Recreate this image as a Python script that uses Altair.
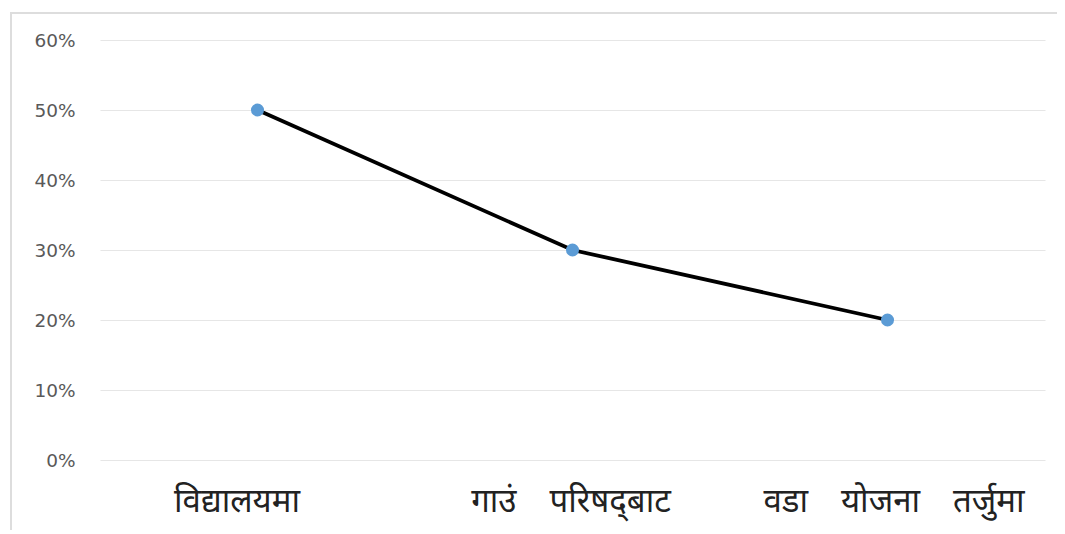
import altair as alt
import pandas as pd

categories = ["विद्यालयमा", "गाउं परिषद्\u200cबाट", "वडा योजना तर्जुमा"]
values = [0.50, 0.30, 0.20]
y_ticks = [0, 0.1, 0.2, 0.3, 0.4, 0.5, 0.6]

df = pd.DataFrame({"cat": categories, "val": values})

x_enc = alt.X(
    "cat:N",
    sort=None,
    scale=alt.Scale(padding=0.5),
    axis=alt.Axis(
        title=None,
        labelAngle=0,
        labelFontSize=33,
        labelFont="Noto Sans",
        labelColor="#222222",
        labelPadding=25,
        labelLimit=0,
        labelExpr="replace(datum.label, / /g, '\u2003')",
        labelOffset=alt.ExprRef(expr="datum.value === '" + categories[0] + "' ? -21 : (datum.value === '" + categories[2] + "' ? 6 : -2)"),
        ticks=False,
        domain=False,
        grid=False,
    ),
)
y_enc = alt.Y(
    "val:Q",
    scale=alt.Scale(domain=[0, 0.6], nice=False),
    axis=alt.Axis(
        title=None,
        values=y_ticks,
        format=".0%",
        labelFontSize=18.5,
        labelFont="DejaVu Sans",
        labelColor="#595959",
        labelPadding=25,
        ticks=False,
        domain=False,
        grid=True,
        gridColor="#E6E6E6",
        gridWidth=1.2,
    ),
)

line = alt.Chart(df).mark_line(color="#000000", strokeWidth=3.8).encode(x=x_enc, y=y_enc)
points = alt.Chart(df).mark_point(filled=True, color="#5B9BD5", size=170, opacity=1).encode(
    x=alt.X("cat:N", sort=None), y="val:Q"
)

frame_top = alt.Chart(df).mark_rule(color="#DDDDDD", strokeWidth=2).encode(
    x=alt.value(-90), x2=alt.value(970), y=alt.value(-27)
)
frame_left = alt.Chart(df).mark_rule(color="#DDDDDD", strokeWidth=2).encode(
    x=alt.value(-89), y=alt.value(-27), y2=alt.value(500)
)

chart = (
    alt.layer(frame_top, frame_left, line, points)
    .properties(
        width=945,
        height=420,
        autosize=alt.AutoSizeParams(type="none"),
        padding={"left": 92, "top": 32, "right": 12, "bottom": 70},
        background="#FFFFFF",
    )
    .configure_view(stroke=None)
)

chart.save("out.html", embed_options={"renderer": "svg", "actions": False})
